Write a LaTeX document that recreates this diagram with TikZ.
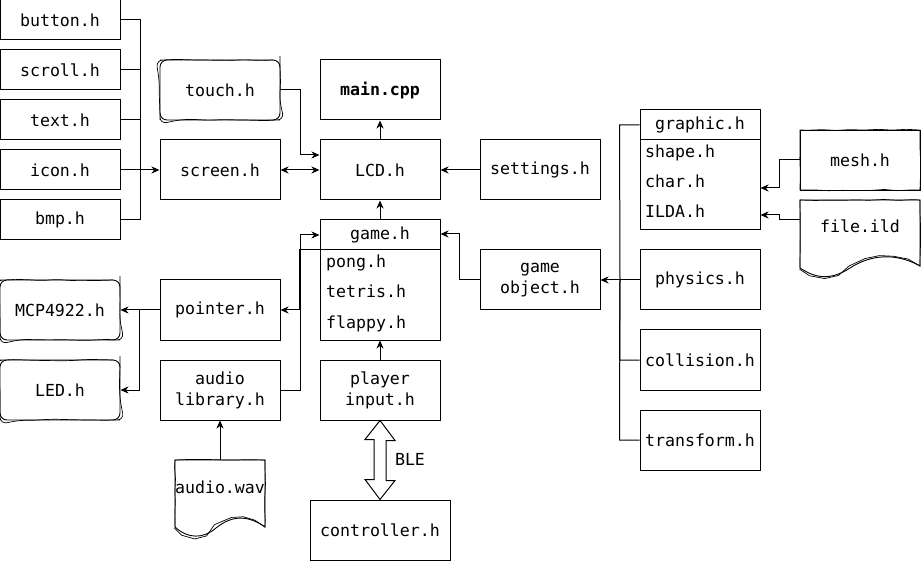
\documentclass[tikz,border=0pt]{standalone}
\usepackage{fontspec}
\setmonofont{DejaVu Sans Mono}
\usetikzlibrary{arrows.meta,decorations.pathmorphing}
\begin{document}
\begin{tikzpicture}[x=1pt,y=-1pt,
  every node/.style={font=\fontsize{16.6}{21}\selectfont\ttfamily, inner sep=0pt, align=center},
  box/.style={draw, line width=1pt, minimum width=120pt, minimum height=60pt},
  hdr/.style={draw, line width=1pt, minimum width=120pt, minimum height=30pt},
  lst/.style={draw, line width=1pt, minimum width=120pt, minimum height=90pt},
  item/.style={anchor=west, text height=12pt, text depth=4pt},
  sketch/.style={draw, line width=0.9pt, rounded corners=7pt, minimum width=120pt, minimum height=60pt,
    preaction={draw, line width=0.7pt, decorate, decoration={random steps, segment length=14pt, amplitude=0.8pt}}},
  sketchsq/.style={draw, line width=0.9pt, minimum width=120pt, minimum height=60pt,
    preaction={draw, line width=0.7pt, decorate, decoration={random steps, segment length=14pt, amplitude=0.7pt}}},
  conn/.style={line width=1pt},
  arr/.style={line width=1pt, -{Stealth[length=8pt,width=7pt,inset=2.5pt]}},
  darr/.style={line width=1pt, {Stealth[length=8pt,width=7pt,inset=2.5pt]}-{Stealth[length=8pt,width=7pt,inset=2.5pt]}}
]
\useasboundingbox[fill=white] (0,0) rectangle (921,561);

% left column
\node[box, minimum height=40pt] (button) at (60,20) {button.h};
\node[box, minimum height=40pt] (scroll) at (60,70) {scroll.h};
\node[box, minimum height=40pt] (text) at (60,120) {text.h};
\node[box, minimum height=40pt] (icon) at (60,170) {icon.h};
\node[box, minimum height=40pt] (bmp) at (60,220) {bmp.h};

\node[sketch] (touch) at (220,90) {touch.h};
\node[box] (screen) at (220,170) {screen.h};
\node[box] (main) at (380,90) {\bfseries main.cpp};
\node[box] (lcd) at (380,170) {LCD.h};
\node[box] (settings) at (540,170) {settings.h};

% game list
\node[hdr] (game) at (380,235) {game.h};
\node[lst] (gbody) at (380,295) {};
\node[item] (pong) at (326,264) {pong.h};
\node[item] (tetris) at (326,294) {tetris.h};
\node[item] (flappy) at (326,324) {flappy.h};

\node[box] (player) at (380,390) {player\\input.h};
\node[box, minimum width=140pt] (controller) at (380,530) {controller.h};
\node (ble) at (410,459) {BLE};

\node[box] (gobj) at (540,280) {game\\object.h};

% graphic list
\node[hdr] (graphic) at (700,125) {graphic.h};
\node[lst] (grbody) at (700,185) {};
\node[item] (shape) at (645,154) {shape.h};
\node[item] (char) at (645,184) {char.h};
\node[item] (ilda) at (645,214) {ILDA.h};

\node[box] (physics) at (700,280) {physics.h};
\node[box] (collision) at (700,360) {collision.h};
\node[box] (transform) at (700,440) {transform.h};

\node[sketchsq] (mesh) at (860,160) {mesh.h};
\node[minimum width=120pt, minimum height=52pt] (file) at (860,226) {file.ild};

\node[sketch] (mcp) at (60,310) {MCP4922.h};
\node[sketch] (led) at (60,390) {LED.h};
\node[box] (pointer) at (220,310) {pointer.h};
\node[box] (audio) at (220,390) {audio\\library.h};
\node[minimum width=90pt, minimum height=54pt] (wav) at (220,487) {audio.wav};

% document shapes
\draw[line width=0.9pt, preaction={draw, line width=0.7pt, decorate, decoration={random steps, segment length=14pt, amplitude=0.6pt}}]
  (800,268) -- (800,200) -- (920,200) -- (920,266)
  .. controls (895,252) and (870,255) .. (850,268)
  .. controls (830,281) and (815,278) .. (800,268) -- cycle;
\draw[line width=0.9pt, preaction={draw, line width=0.7pt, decorate, decoration={random steps, segment length=12pt, amplitude=0.6pt}}]
  (175,527) -- (175,460) -- (265,460) -- (265,527)
  .. controls (248,515) and (232,515) .. (216,528)
  .. controls (203,539) and (188,539) .. (175,527) -- cycle;

% connectors left column
\draw[conn] (button.east) -| (140,170);
\draw[conn] (scroll.east) -| (140,170);
\draw[conn] (text.east) -| (140,170);
\draw[conn] (bmp.east) -| (140,170);
\draw[arr] (icon.east) -- (screen.west);

\draw[arr] (touch.east) -- ++(20,0) |- ([yshift=15pt]lcd.west);
\draw[darr] (screen.east) -- (lcd.west);
\draw[arr] (lcd.north) -- (main.south);
\draw[arr] (settings.west) -- (lcd.east);
\draw[arr] (game.north) -- (lcd.south);
\draw[arr] (player.north) -- (gbody.south);
\draw[arr] (gobj.west) -- ++(-20,0) |- ([yshift=1pt]game.east);

\draw[conn] (graphic.west) -- ++(-20,0) -- (620,280);
\draw[conn] (collision.west) -- ++(-20,0) -- (620,280);
\draw[conn] (transform.west) -- ++(-20,0) -- (620,280);
\draw[arr] (physics.west) -- (gobj.east);

\draw[arr] (mesh.west) -- ++(-20,0) |- ([yshift=-3pt]grbody.east);
\draw[arr] ([yshift=6pt]file.west) -- ++(-20,0) |- ([yshift=-30pt]grbody.east);

\draw[arr] (gbody.north west) -- ++(-20,0) |- (pointer.east);
\draw[arr] (audio.east) -- ++(20,0) |- (game.west);
\draw[arr] (pointer.west) -- (mcp.east);
\draw[arr] (pointer.west) -- ++(-20,0) |- (led.east);
\draw[arr] (wav.north) -- (audio.south);

% BLE block arrow
\draw[line width=1pt] (player.south) -- ++(15,20) -- ++(-9,0) -- ++(0,40) -- ++(9,0) -- (controller.north)
  -- ++(-15,-20) -- ++(9,0) -- ++(0,-40) -- ++(-9,0) -- cycle;
\end{tikzpicture}
\end{document}
